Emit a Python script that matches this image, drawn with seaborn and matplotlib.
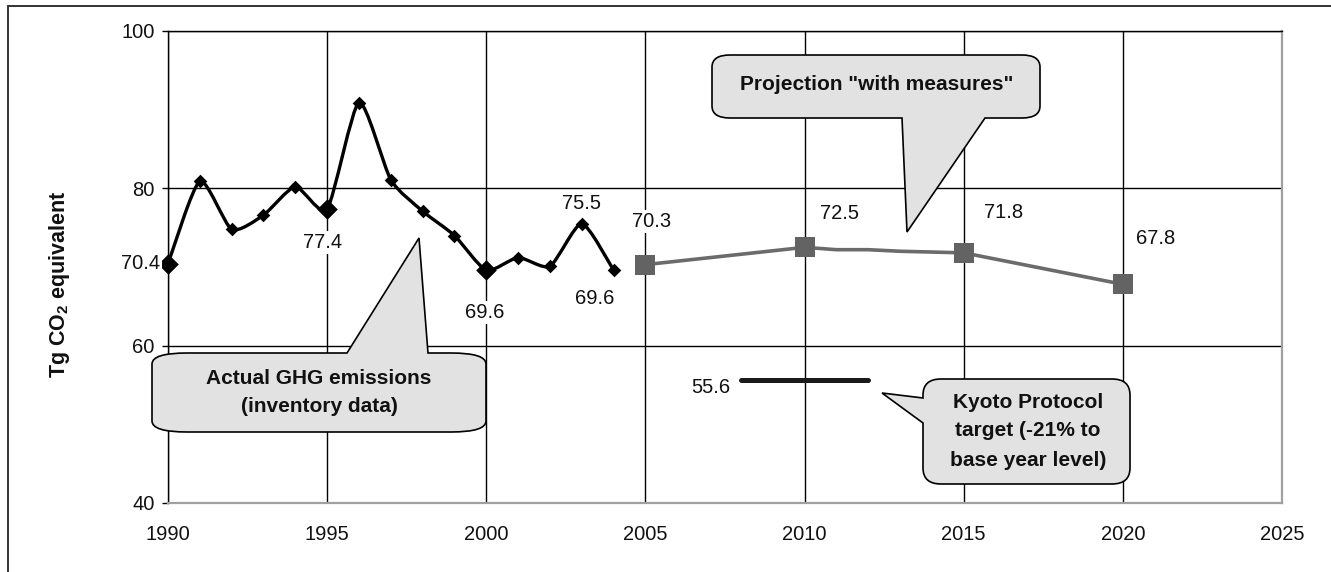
import numpy as np
import pandas as pd
import matplotlib
matplotlib.use("Agg")
import matplotlib.pyplot as plt
import seaborn as sns
from matplotlib.path import Path
from matplotlib.patches import PathPatch
from matplotlib.lines import Line2D

# ---------------- data ----------------
hist_years = list(range(1990, 2005))
hist_values = [70.4, 80.9, 74.8, 76.6, 80.2, 77.4, 90.9, 81.1, 77.1, 74.0,
               69.6, 71.2, 70.1, 75.5, 69.6]
hist_big_marker_years = [1990, 1995, 2000]
hist_labeled_years = [1990, 1995, 2000, 2003, 2004]

proj_years = [2005, 2010, 2011, 2012, 2013, 2015, 2020]
proj_values = [70.3, 72.5, 72.2, 72.2, 72.0, 71.8, 67.8]
proj_marker_years = [2005, 2010, 2015, 2020]

kyoto_years = [2008, 2012]
kyoto_values = [55.6, 55.6]

x_ticks = [1990, 1995, 2000, 2005, 2010, 2015, 2020, 2025]
y_ticks = [40, 60, 80, 100]

y_label = r"Tg CO$_{\mathbf{2}}$ equivalent"
callout_hist = ["Actual GHG emissions", "(inventory data)"]
callout_proj = ['Projection "with measures"']
callout_kyoto = ["Kyoto Protocol", "target (-21% to", "base year level)"]

# ---------------- style ----------------
W, H = 1331, 572
sns.set_theme(style="white")
plt.rcParams["font.family"] = ["Liberation Sans", "DejaVu Sans"]
plt.rcParams["mathtext.fontset"] = "custom"
plt.rcParams["mathtext.rm"] = "Liberation Sans"
plt.rcParams["mathtext.bf"] = "Liberation Sans:bold"

fig = plt.figure(figsize=(W / 100, H / 100), dpi=100)
fig.patch.set_facecolor("white")
ax = fig.add_axes([168 / W, 1 - 503 / H, (1282 - 168) / W, (503 - 31) / H])
ax.set_facecolor("white")

# historical smoothed line (mild bezier smoothing through data points)
xs = np.array(hist_years, float)
ys = np.array(hist_values, float)
n = len(xs)
k = 1 / 9
verts = [(xs[0], ys[0])]
codes = [Path.MOVETO]
for i in range(n - 1):
    i0, i3 = max(i - 1, 0), min(i + 2, n - 1)
    c1 = (xs[i] + (xs[i + 1] - xs[i0]) * k, ys[i] + (ys[i + 1] - ys[i0]) * k)
    c2 = (xs[i + 1] - (xs[i3] - xs[i]) * k, ys[i + 1] - (ys[i3] - ys[i]) * k)
    verts += [c1, c2, (xs[i + 1], ys[i + 1])]
    codes += [Path.CURVE4] * 3
ax.add_patch(PathPatch(Path(verts, codes), fill=False, ec="black", lw=2.4,
                       joinstyle="round", capstyle="round", zorder=3))

hist_df = pd.DataFrame({"year": hist_years, "value": hist_values})
big = hist_df[hist_df.year.isin(hist_big_marker_years)]
small = hist_df[~hist_df.year.isin(hist_big_marker_years)]
sns.scatterplot(data=big, x="year", y="value", marker="D", s=110, color="black",
                linewidth=0, ax=ax, zorder=4, clip_on=False)
sns.scatterplot(data=small, x="year", y="value", marker="D", s=48, color="black",
                linewidth=0, ax=ax, zorder=4, clip_on=False)

# projection
proj_df = pd.DataFrame({"year": proj_years, "value": proj_values})
sns.lineplot(data=proj_df, x="year", y="value", color="#6b6b6b", lw=2.6, ax=ax,
             zorder=3)
pm = proj_df[proj_df.year.isin(proj_marker_years)]
sns.scatterplot(data=pm, x="year", y="value", marker="s", s=210, color="#636363",
                linewidth=0, ax=ax, zorder=4, clip_on=False)

# Kyoto target
sns.lineplot(x=kyoto_years, y=kyoto_values, color="#1a1a1a", lw=3.6, ax=ax,
             zorder=3, solid_capstyle="round")

# data labels (offsets in pixels)
FS = 14.5
label_offsets = {1990: (-8, 0, "right"), 1995: (-5, -34, "center"),
                 2000: (-2, -42, "center"), 2003: (0, 20, "center"),
                 2004: (-19, -28, "center")}
for yr, v in zip(hist_years, hist_values):
    if yr in label_offsets:
        dx, dy, ha = label_offsets[yr]
        ax.annotate(f"{v:.1f}", (yr, v), xytext=(dx, dy), textcoords="offset pixels",
                    ha=ha, va="center", fontsize=FS, color="#111111", zorder=5,
                    bbox=dict(boxstyle="square,pad=0.1", fc="white", ec="none"))
proj_offsets = {2005: (6, 43), 2010: (35, 34), 2015: (40, 40), 2020: (33, 46)}
for yr, v in zip(proj_years, proj_values):
    if yr in proj_offsets:
        dx, dy = proj_offsets[yr]
        ax.annotate(f"{v:.1f}", (yr, v), xytext=(dx, dy), textcoords="offset pixels",
                    ha="center", va="center", fontsize=FS, color="#111111", zorder=5,
                    bbox=dict(boxstyle="square,pad=0.1", fc="white", ec="none"))
ax.annotate(f"{kyoto_values[0]:.1f}", (kyoto_years[0], kyoto_values[0]),
            xytext=(-30, -7), textcoords="offset pixels", ha="center", va="center",
            fontsize=FS, color="#111111", zorder=5)

# axes
ax.set_xlim(1990, 2025)
ax.set_ylim(40, 100)
ax.set_xticks(x_ticks)
ax.set_yticks(y_ticks)
ax.set_xticklabels([str(t) for t in x_ticks])
ax.set_yticklabels([str(t) for t in y_ticks])
ax.set_xlabel("")
ax.set_ylabel("")
ax.grid(True, color="black", lw=1.0)
ax.set_axisbelow(True)
ax.get_xgridlines()[-1].set_visible(False)
ax.get_ygridlines()[0].set_visible(False)
ax.tick_params(axis="y", direction="out", length=4.5, width=1, color="black",
               pad=5.0, labelsize=FS, labelcolor="#111111", left=True)
ax.tick_params(axis="x", length=0, pad=16, labelsize=FS, labelcolor="#111111")
for s in ["left", "top"]:
    ax.spines[s].set_color("black")
    ax.spines[s].set_linewidth(1.0)
for s in ["right", "bottom"]:
    ax.spines[s].set_color("#a0a0a0")
    ax.spines[s].set_linewidth(1.6)

fig.text(59 / W, 1 - 284 / H, y_label, rotation=90, ha="center", va="center",
         fontsize=15.5, fontweight="bold", color="#111111")

# outer frame
fig.add_artist(Line2D([8 / W, 8 / W], [0, 1 - 6 / H], transform=fig.transFigure,
                      color="#333333", lw=1.4))
fig.add_artist(Line2D([8 / W, 1], [1 - 6 / H, 1 - 6 / H], transform=fig.transFigure,
                      color="#333333", lw=1.4))


# ---------------- callouts (pixel layout, top-left origin) ----------------
def bubble(x0, y0, x1, y1, rx, ry, side, b0, b1, tip):
    P = []
    C = []

    def mv(p):
        P.append(p); C.append(Path.MOVETO)

    def ln(p):
        P.append(p); C.append(Path.LINETO)

    def qd(c, p):
        P.extend([c, p]); C.extend([Path.CURVE3, Path.CURVE3])

    mv((x0 + rx, y0))
    if side == "top":
        ln((b0, y0)); ln(tip); ln((b1, y0))
    ln((x1 - rx, y0))
    qd((x1, y0), (x1, y0 + ry))
    ln((x1, y1 - ry))
    qd((x1, y1), (x1 - rx, y1))
    if side == "bottom":
        ln((b1, y1)); ln(tip); ln((b0, y1))
    ln((x0 + rx, y1))
    qd((x0, y1), (x0, y1 - ry))
    if side == "left":
        ln((x0, b1)); ln(tip); ln((x0, b0))
    ln((x0, y0 + ry))
    qd((x0, y0), (x0 + rx, y0))
    P.append((x0 + rx, y0)); C.append(Path.CLOSEPOLY)
    P = [(px / W, 1 - py / H) for px, py in P]
    patch = PathPatch(Path(P, C), transform=fig.transFigure, fc="#e2e2e2",
                      ec="black", lw=1.2, zorder=10)
    fig.add_artist(patch)


bubble(152, 353, 486, 432, 35, 11, "top", 347, 428, (419, 238))
bubble(712, 55, 1040, 118, 18, 12, "bottom", 902, 985, (907, 232))
bubble(923, 379, 1130, 484, 18, 16, "left", 398, 423, (882, 393))

CFS = 15
for txt, (cx, cy) in zip(callout_hist, [(319, 378), (319, 406)]):
    fig.text(cx / W, 1 - cy / H, txt, ha="center", va="center", fontsize=CFS,
             fontweight="bold", color="#111111", zorder=11)
for txt, (cx, cy) in zip(callout_proj, [(877, 85)]):
    fig.text(cx / W, 1 - cy / H, txt, ha="center", va="center", fontsize=CFS,
             fontweight="bold", color="#111111", zorder=11)
for txt, (cx, cy) in zip(callout_kyoto, [(1028, 402), (1028, 431), (1028, 460)]):
    fig.text(cx / W, 1 - cy / H, txt, ha="center", va="center", fontsize=CFS,
             fontweight="bold", color="#111111", zorder=11)

fig.savefig("out.png", dpi=100, facecolor="white")
